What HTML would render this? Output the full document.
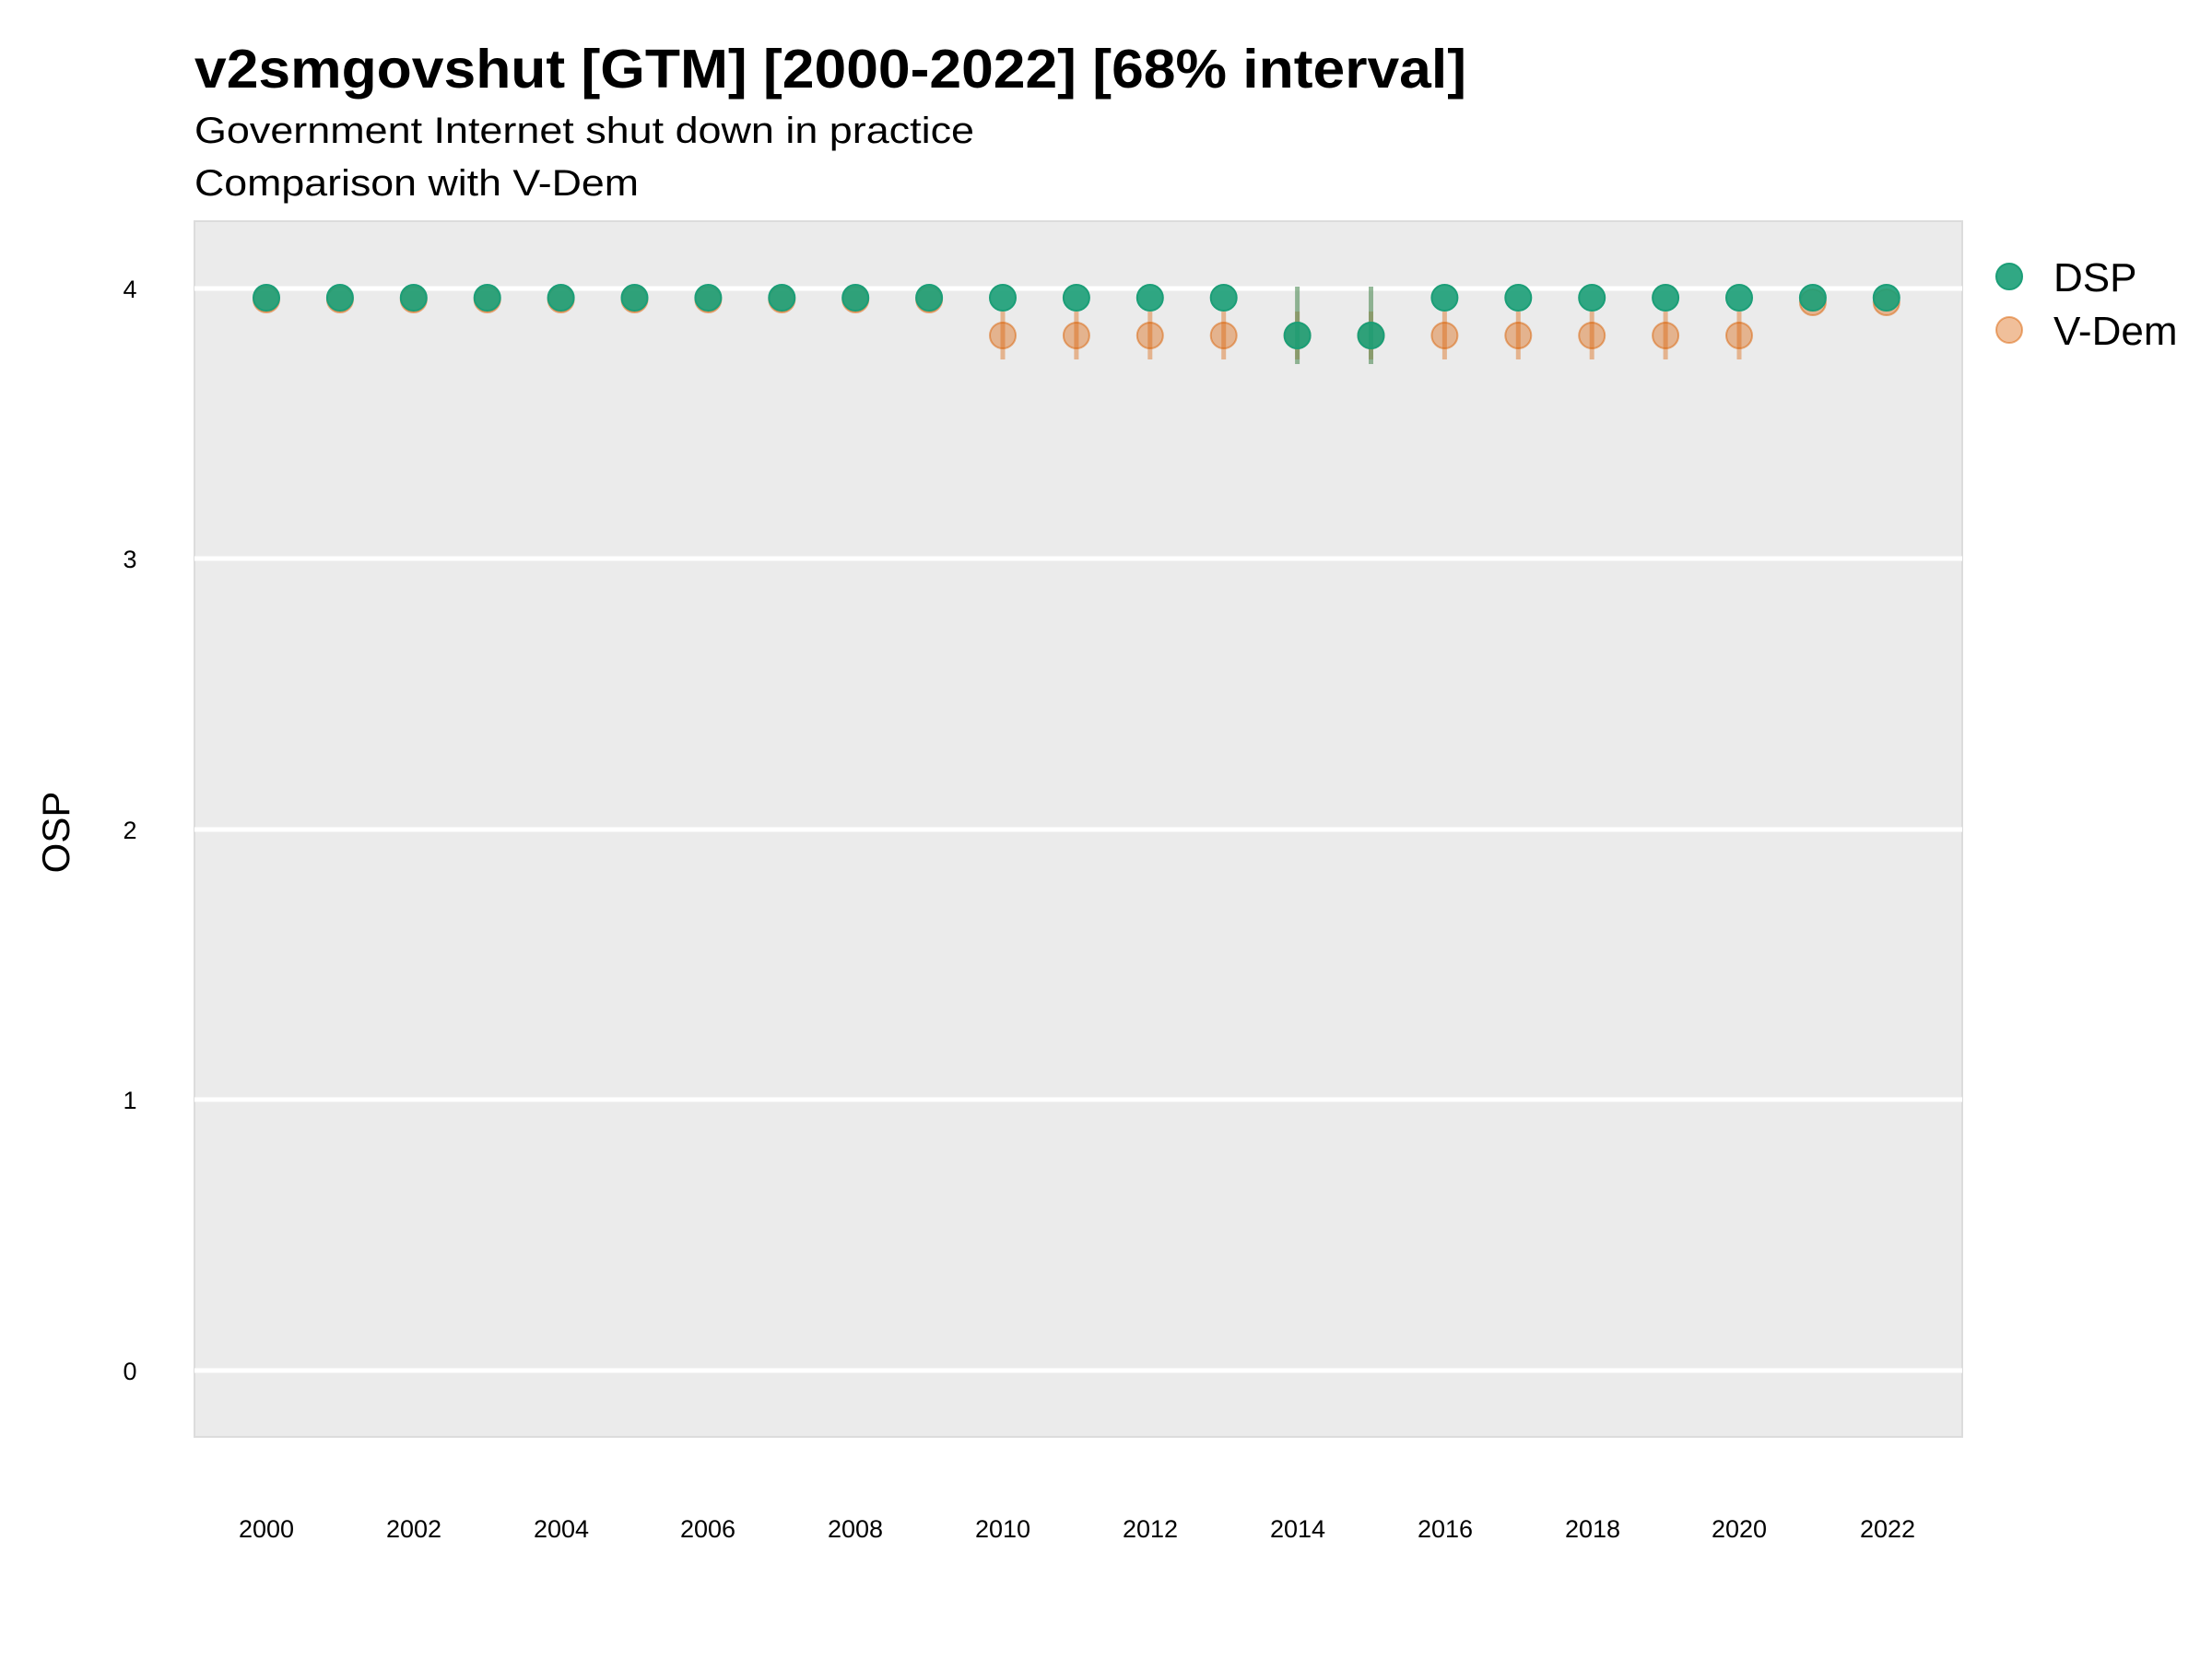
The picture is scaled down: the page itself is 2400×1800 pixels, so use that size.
<!DOCTYPE html>
<html><head><meta charset="utf-8"><style>body{margin:0;background:#fff}svg{display:block}
.d{fill:#1b9e77;fill-opacity:0.9;stroke:#1b9e77;stroke-width:2}
.v{fill:#d95f02;fill-opacity:0.4;stroke:#d95f02;stroke-opacity:0.5;stroke-width:2}
.vb{stroke:#d95f02;stroke-opacity:0.4;stroke-width:5}
.db{stroke:#4f8a55;stroke-opacity:0.6;stroke-width:5}
</style></head>
<body>
<svg width="2400" height="1800" xmlns="http://www.w3.org/2000/svg" font-family="Liberation Sans, sans-serif">
<rect width="2400" height="1800" fill="#fff"/>
<text x="211" y="95" font-size="59" font-weight="bold" textLength="1380" lengthAdjust="spacingAndGlyphs">v2smgovshut [GTM] [2000-2022] [68% interval]</text>
<text x="211" y="155" font-size="40" textLength="846" lengthAdjust="spacingAndGlyphs">Government Internet shut down in practice</text>
<text x="211" y="212" font-size="40" textLength="482" lengthAdjust="spacingAndGlyphs">Comparison with V-Dem</text>
<rect x="211" y="240" width="1918" height="1319" fill="#ebebeb" stroke="#dcdcdc" stroke-width="2"/>
<g stroke="#fff" stroke-width="5">
<line x1="211" x2="2129" y1="313" y2="313"/><line x1="211" x2="2129" y1="606" y2="606"/>
<line x1="211" x2="2129" y1="900" y2="900"/><line x1="211" x2="2129" y1="1193" y2="1193"/>
<line x1="211" x2="2129" y1="1487" y2="1487"/>
</g>
<g font-size="27" text-anchor="middle">
<text x="141" y="323">4</text><text x="141" y="616">3</text><text x="141" y="910">2</text><text x="141" y="1203">1</text><text x="141" y="1497">0</text>
<text x="289" y="1668">2000</text><text x="449" y="1668">2002</text><text x="609" y="1668">2004</text><text x="768" y="1668">2006</text><text x="928" y="1668">2008</text><text x="1088" y="1668">2010</text><text x="1248" y="1668">2012</text><text x="1408" y="1668">2014</text><text x="1568" y="1668">2016</text><text x="1728" y="1668">2018</text><text x="1887" y="1668">2020</text><text x="2048" y="1668">2022</text>
</g>
<text transform="translate(75,903) rotate(-90)" font-size="42" text-anchor="middle">OSP</text>
<!-- V-Dem -->
<g>
<line class="vb" x1="1088" x2="1088" y1="338" y2="390"/>
<line class="vb" x1="1167.9" x2="1167.9" y1="338" y2="390"/>
<line class="vb" x1="1247.8" x2="1247.8" y1="338" y2="390"/>
<line class="vb" x1="1327.7" x2="1327.7" y1="338" y2="390"/>
<line class="vb" x1="1407.6" x2="1407.6" y1="338" y2="390"/>
<line class="vb" x1="1487.5" x2="1487.5" y1="338" y2="390"/>
<line class="vb" x1="1567.4" x2="1567.4" y1="338" y2="390"/>
<line class="vb" x1="1647.3" x2="1647.3" y1="338" y2="390"/>
<line class="vb" x1="1727.2" x2="1727.2" y1="338" y2="390"/>
<line class="vb" x1="1807.1" x2="1807.1" y1="338" y2="390"/>
<line class="vb" x1="1887" x2="1887" y1="338" y2="390"/>
<circle class="v" cx="289" cy="325" r="14"/><circle class="v" cx="368.9" cy="325" r="14"/>
<circle class="v" cx="448.8" cy="325" r="14"/><circle class="v" cx="528.7" cy="325" r="14"/>
<circle class="v" cx="608.6" cy="325" r="14"/><circle class="v" cx="688.5" cy="325" r="14"/>
<circle class="v" cx="768.4" cy="325" r="14"/><circle class="v" cx="848.3" cy="325" r="14"/>
<circle class="v" cx="928.2" cy="325" r="14"/><circle class="v" cx="1008.1" cy="325" r="14"/>
<circle class="v" cx="1088" cy="364" r="14"/><circle class="v" cx="1167.9" cy="364" r="14"/>
<circle class="v" cx="1247.8" cy="364" r="14"/><circle class="v" cx="1327.7" cy="364" r="14"/>
<circle class="v" cx="1407.6" cy="364" r="14"/><circle class="v" cx="1487.5" cy="364" r="14"/>
<circle class="v" cx="1567.4" cy="364" r="14"/><circle class="v" cx="1647.3" cy="364" r="14"/>
<circle class="v" cx="1727.2" cy="364" r="14"/><circle class="v" cx="1807.1" cy="364" r="14"/>
<circle class="v" cx="1887" cy="364" r="14"/>
<circle class="v" cx="1966.9" cy="328" r="14"/><circle class="v" cx="2046.8" cy="328" r="14"/>
</g>
<!-- DSP -->
<g>
<line class="db" x1="1407.6" x2="1407.6" y1="311" y2="395"/>
<line class="db" x1="1487.5" x2="1487.5" y1="311" y2="395"/>
<circle class="d" cx="289" cy="323" r="14"/><circle class="d" cx="368.9" cy="323" r="14"/>
<circle class="d" cx="448.8" cy="323" r="14"/><circle class="d" cx="528.7" cy="323" r="14"/>
<circle class="d" cx="608.6" cy="323" r="14"/><circle class="d" cx="688.5" cy="323" r="14"/>
<circle class="d" cx="768.4" cy="323" r="14"/><circle class="d" cx="848.3" cy="323" r="14"/>
<circle class="d" cx="928.2" cy="323" r="14"/><circle class="d" cx="1008.1" cy="323" r="14"/>
<circle class="d" cx="1088" cy="323" r="14"/><circle class="d" cx="1167.9" cy="323" r="14"/>
<circle class="d" cx="1247.8" cy="323" r="14"/><circle class="d" cx="1327.7" cy="323" r="14"/>
<circle class="d" cx="1407.6" cy="364" r="14"/><circle class="d" cx="1487.5" cy="364" r="14"/>
<circle class="d" cx="1567.4" cy="323" r="14"/><circle class="d" cx="1647.3" cy="323" r="14"/>
<circle class="d" cx="1727.2" cy="323" r="14"/><circle class="d" cx="1807.1" cy="323" r="14"/>
<circle class="d" cx="1887" cy="323" r="14"/><circle class="d" cx="1966.9" cy="323" r="14"/>
<circle class="d" cx="2046.8" cy="323" r="14"/>
</g>
<circle class="d" cx="2180" cy="300" r="14"/>
<circle class="v" cx="2180" cy="358" r="14"/>
<text x="2228" y="316" font-size="44">DSP</text>
<text x="2228" y="374" font-size="44">V-Dem</text>
</svg>
</body></html>
